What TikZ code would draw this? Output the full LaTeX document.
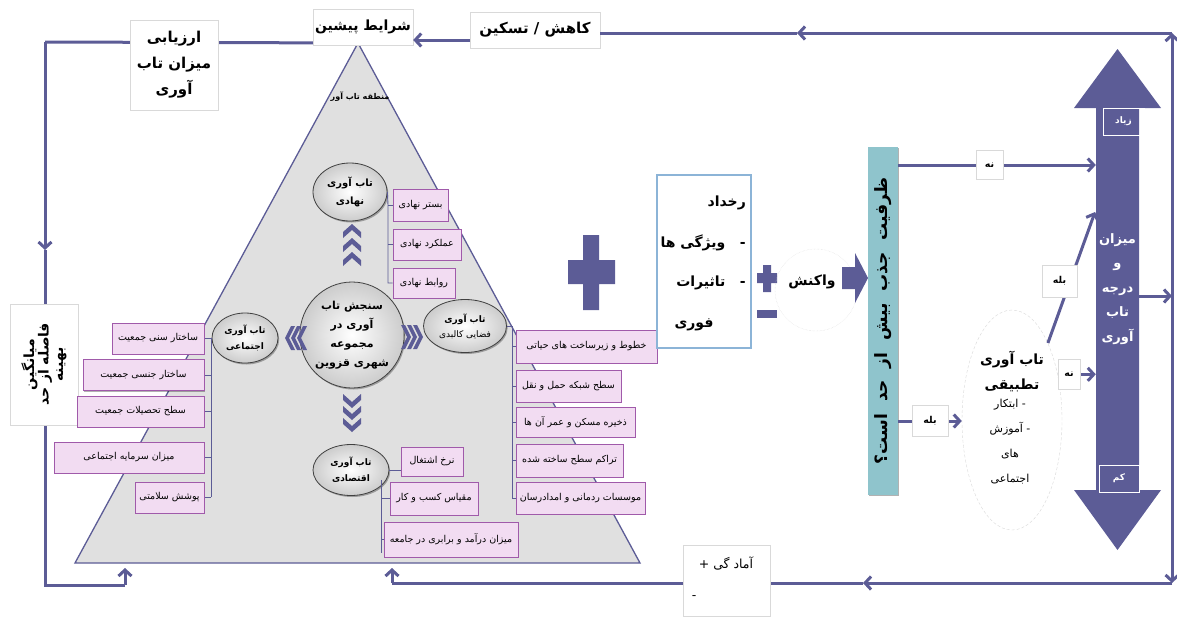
\documentclass[tikz,border=0pt]{standalone}
\usepackage{fontspec}
\newfontfamily\arabicfont[Script=Arabic]{DejaVu Sans}
\TeXXeTstate=1
\usetikzlibrary{arrows.meta,shapes.geometric,shadows}
\definecolor{slate}{RGB}{92,92,150}
\definecolor{trif}{RGB}{224,224,224}
\definecolor{pinkf}{RGB}{242,220,242}
\definecolor{pinkd}{RGB}{160,90,170}
\definecolor{tealbox}{RGB}{143,196,204}
\definecolor{evbd}{RGB}{140,180,215}
\newcommand\faR[1]{\beginR #1\endR}
\tikzset{
 conn/.style={draw=slate, line width=3pt},
 arr/.style={draw=slate, line width=3pt, -{Straight Barb[length=6pt,width=13pt]}},
 bus/.style={draw=slate, line width=0.9pt},
 pbox/.style={draw=pinkd, fill=pinkf, line width=0.9pt, inner sep=1pt,
   font=\arabicfont\fontsize{9.5}{12}\selectfont,
   drop shadow={shadow xshift=1.2pt, shadow yshift=-1.2pt, fill=black, opacity=0.3}},
 ell/.style={ellipse, draw=black!75, line width=0.8pt, inner color=white, outer color=gray!40,
   inner sep=0pt, align=center,
   drop shadow={shadow xshift=1.2pt, shadow yshift=-1.5pt, fill=black, opacity=0.3}},
 wbox/.style={draw=black!15, fill=white, inner sep=0pt, align=center,
   font=\arabicfont\bfseries\fontsize{15}{26}\selectfont},
 lab/.style={draw=black!15, fill=white, inner sep=0pt,
   font=\arabicfont\bfseries\fontsize{9.5}{10}\selectfont,
   drop shadow={shadow xshift=0.8pt, shadow yshift=-0.8pt, fill=black, opacity=0.15}},
 txt/.style={inner sep=0pt, font=\arabicfont\bfseries\fontsize{14}{16}\selectfont},
 chevU/.pic={\fill[slate] (-9,0) -- (0,-8) -- (9,0) -- (9,6) -- (0,-2) -- (-9,6) -- cycle;},
 chevR/.pic={\fill[slate] (-4,-12) -- (2,0) -- (-4,12) -- (0,12) -- (6,0) -- (0,-12) -- cycle;},
}
\begin{document}
\begin{tikzpicture}[x=1pt,y=-1pt]
\useasboundingbox (0,0) rectangle (1177,616);

% ---------- outer loop coordinates
\coordinate (apex) at (358,43);
\coordinate (TL) at (45,42);
\coordinate (lmid) at (45,250);
\coordinate (BL) at (45,585);
\coordinate (BLr) at (125,585);
\coordinate (BLup) at (125,568);
\coordinate (TR) at (1172,33);
\coordinate (tmid) at (797,33);
\coordinate (kl) at (470,40);
\coordinate (RM) at (1172,296);
\coordinate (BR) at (1172,583);
\coordinate (bmid) at (863,583);
\coordinate (BMl) at (392,583);
\coordinate (BMup) at (392,568);

% ---------- triangle
\filldraw[fill=trif, draw=slate, line width=1.3pt] (apex) -- (640,563) -- (75,563) -- cycle;
\node[inner sep=0pt, font=\arabicfont\bfseries\fontsize{8}{9}\selectfont] (zone) at (360,97) {\faR{منطقه تاب آور}};

% ---------- loop lines
\draw[conn] (apex) -- (TL);
\draw[arr] (TL) -- (lmid);
\draw[conn] (lmid) -- (BL) -- (BLr);
\draw[arr] (BLr) -- (BLup);
\draw[arr] (RM) -- (TR);
\draw[arr] (RM) -- (BR);
\draw[arr] (TR) -- (tmid);
\draw[arr] (BR) -- (bmid);
\draw[conn] (bmid) -- (BMl);
\draw[arr] (BMl) -- (BMup);

% ---------- boxes on loop
\node[wbox, minimum width=88pt, minimum height=90pt] (arz) at (174,65)
  {\faR{ارزیابی}\\\faR{میزان تاب}\\\faR{آوری}};
\node[wbox, minimum width=100pt, minimum height=36pt, font=\arabicfont\bfseries\fontsize{14}{16}\selectfont] (shar) at (363,27) {\faR{شرایط پیشین}};
\node[wbox, minimum width=130pt, minimum height=36pt] (kah) at (535,30) {\faR{کاهش / تسکین}};
\draw[conn] (tmid) -- (kah.east |- tmid);
\draw[arr] (kl) -- (shar.east |- kl);
\node[draw=black!15, fill=white, minimum width=68pt, minimum height=121pt] (mian) at (44,364.5) {};
\node[rotate=90, align=center, inner sep=0pt, font=\arabicfont\bfseries\fontsize{14}{14.5}\selectfont] (miantxt) at (mian)
  {\faR{میانگین}\\\faR{فاصله از حد}\\\faR{بهینه}};
\node[draw=black!15, fill=white, minimum width=87pt, minimum height=71pt] (amad) at (726.5,581) {};
\node[inner sep=0pt, font=\arabicfont\fontsize{12.5}{14}\selectfont] (amadt) at (726,563) {\faR{آماد گی +}};
\node[inner sep=0pt, font=\arabicfont\fontsize{12.5}{14}\selectfont] (amadm) at (694,598) {-};

% ---------- central ellipses
\node[ell, minimum width=95pt, minimum height=106pt, font=\arabicfont\bfseries\fontsize{11}{19}\selectfont] (core) at (352,335)
  {\faR{سنجش تاب}\\\faR{آوری در}\\\faR{مجموعه}\\\faR{شهری قزوین}};
\node[ell, minimum width=74pt, minimum height=58pt, font=\arabicfont\bfseries\fontsize{10}{18}\selectfont] (inst) at (350,192)
  {\faR{تاب آوری}\\\faR{نهادی}};
\node[ell, minimum width=66pt, minimum height=50pt, font=\arabicfont\bfseries\fontsize{9}{16}\selectfont] (soc) at (245,338)
  {\faR{تاب آوری}\\\faR{اجتماعی}};
\node[ell, minimum width=83pt, minimum height=53pt, font=\arabicfont\fontsize{9}{15}\selectfont] (phys) at (465,326)
  {\textbf{\faR{تاب آوری}}\\\faR{فضایی کالبدی}};
\node[ell, minimum width=76pt, minimum height=51pt, font=\arabicfont\bfseries\fontsize{9}{16}\selectfont] (eco) at (351,470)
  {\faR{تاب آوری}\\\faR{اقتصادی}};

% chevrons
\pic at (352,232) {chevU};
\pic at (352,246) {chevU};
\pic at (352,260) {chevU};
\pic[rotate=180] at (352,400) {chevU};
\pic[rotate=180] at (352,412) {chevU};
\pic[rotate=180] at (352,424) {chevU};
\pic at (405,337) {chevR};
\pic at (411,337) {chevR};
\pic at (417,337) {chevR};
\pic[rotate=180] at (291,338) {chevR};
\pic[rotate=180] at (297,338) {chevR};
\pic[rotate=180] at (303,338) {chevR};

% ---------- institutional boxes
\coordinate (tbus) at (388,203);
\node[pbox, minimum width=55pt, minimum height=32pt] (b1) at (420.5,205) {\faR{بستر نهادی}};
\node[pbox, minimum width=68pt, minimum height=31pt] (b2) at (427,244.5) {\faR{عملکرد نهادی}};
\node[pbox, minimum width=62pt, minimum height=30pt] (b3) at (424,283) {\faR{روابط نهادی}};
\draw[bus] (inst.east) -- (b1.west -| tbus) -- (b3.west -| tbus) -- (b3.west);
\draw[bus] (b1.west -| tbus) -- (b1.west);
\draw[bus] (b2.west -| tbus) -- (b2.west);

% ---------- social boxes
\coordinate (lbus) at (211,338);
\draw[bus] (soc.west) -- (lbus) -- (211,497);
\foreach \n/\w/\cx/\cy/\t in {
 l1/92/158/338.5/{ساختار سنی جمعیت},
 l2/121/143.5/375/{ساختار جنسی جمعیت},
 l3/127/140.5/411.5/{سطح تحصیلات جمعیت},
 l4/150/129/457.5/{میزان سرمایه اجتماعی},
 l5/69/169.5/497.5/{پوشش سلامتی}}{
 \draw[bus] (211,\cy) -- (204,\cy);
 \node[pbox, minimum width=\w pt, minimum height=31pt] (\n) at (\cx,\cy) {\faR{\t}};
}

% ---------- physical boxes
\draw[bus] (phys.east) -- (512,326) -- (512,498);
\foreach \n/\w/\cx/\cy/\h/\t in {
 r1/141/586.5/346.5/33/{خطوط و زیرساخت های حیاتی},
 r2/105/568.5/386/32/{سطح شبکه حمل و نقل},
 r3/119/575.5/422/30/{ذخیره مسکن و عمر آن ها},
 r4/107/569.5/460.5/33/{تراکم سطح ساخته شده},
 r5/129/580.5/498/32/{موسسات ردمانی و امدادرسان}}{
 \draw[bus] (512,\cy) -- (516,\cy);
 \node[pbox, minimum width=\w pt, minimum height=\h pt] (\n) at (\cx,\cy) {\faR{\t}};
}

% ---------- economic boxes
\node[pbox, minimum width=62pt, minimum height=29pt] (e1) at (432,461.5) {\faR{نرخ اشتغال}};
\node[pbox, minimum width=88pt, minimum height=33pt] (e2) at (434,498.5) {\faR{مقیاس کسب و کار}};
\node[pbox, minimum width=134pt, minimum height=35pt] (e3) at (451,539.5) {\faR{میزان درآمد و برابری در جامعه}};
\draw[bus] (eco.east) -- (eco.east -| e1.west);
\draw[bus] (381,480) -- (381,553);
\draw[bus] (381,498.5) -- (e2.west);
\draw[bus] (381,539.5) -- (e3.west);

% ---------- big plus
\fill[slate] (583,235) -- (599,235) -- (599,260) -- (615,260) -- (615,284) -- (599,284) -- (599,310)
  -- (583,310) -- (583,284) -- (568,284) -- (568,260) -- (583,260) -- cycle;

% ---------- event box
\node[draw=evbd, line width=1.2pt, fill=white, minimum width=94pt, minimum height=173pt] (event) at (704,261.5) {};
\node[txt, anchor=east] (ev1) at (746,203) {\faR{رخداد}};
\node[txt, anchor=east] (ev2) at (746,243) {\faR{- \ \ ویژگی ها}};
\node[txt, anchor=east] (ev3) at (746,283) {\faR{- \ \ تاثیرات}};
\node[txt] (ev4) at (694,325) {\faR{فوری}};

% ---------- plus/minus
\fill[slate] (763,265) -- (771,265) -- (771,273) -- (777,273) -- (777,283) -- (771,283) -- (771,292)
  -- (763,292) -- (763,283) -- (757,283) -- (757,273) -- (763,273) -- cycle;
\fill[slate] (757,310) rectangle (777,318);

% ---------- reaction
\node[circle, draw=gray!30, densely dotted, minimum size=82pt] (vak) at (816,290) {};
\node[txt] (vakt) at (812,282) {\faR{واکنش}};
\fill[slate] (842,267) -- (855,267) -- (855,253) -- (868,278) -- (855,303) -- (855,289) -- (842,289) -- cycle;

% ---------- capacity box
\node[fill=tealbox, minimum width=30pt, minimum height=348pt,
  drop shadow={shadow xshift=1.2pt, shadow yshift=-1.2pt, fill=black, opacity=0.3}] (cap) at (883,321) {};
\node[rotate=90, inner sep=0pt, font=\arabicfont\bfseries\fontsize{17}{18}\selectfont] (capt) at (cap)
  {\faR{ظرفیت \ جذب \ بیش \ از \ حد \ است؟}};

% ---------- big double arrow
\fill[slate] (1074,108) -- (1117.5,49) -- (1161,108) -- (1139,108) -- (1139,490) -- (1161,490)
  -- (1117.5,550) -- (1074,490) -- (1096,490) -- (1096,108) -- cycle;
\node[minimum width=43pt, minimum height=382pt, inner sep=0pt] (big) at (1117.5,299) {};
\node[align=center, inner sep=0pt, text=white, font=\arabicfont\bfseries\fontsize{13}{24.5}\selectfont] (bigt) at (1117.5,289)
  {\faR{میزان}\\\faR{و}\\\faR{درجه}\\\faR{تاب}\\\faR{آوری}};
\node[draw=white, line width=0.6pt, minimum width=41pt, minimum height=27pt, inner sep=0pt, text=white,
  font=\arabicfont\bfseries\fontsize{9}{10}\selectfont] (ziad) at (1123.5,121.5) {\faR{زیاد}};
\node[draw=white, line width=0.6pt, minimum width=40pt, minimum height=27pt, inner sep=0pt, text=white,
  font=\arabicfont\bfseries\fontsize{9}{10}\selectfont] (kam) at (1119,478.5) {\faR{کم}};
\coordinate (bigE) at (1139,296);
\draw[arr] (bigE) -- (RM);

% ---------- adaptive ellipse
\node[ellipse, draw=gray!30, densely dashed, fill=white, minimum width=100pt, minimum height=220pt] (adapt) at (1012,420) {};
\node[align=center, inner sep=0pt, font=\arabicfont\bfseries\fontsize{14}{25}\selectfont] (adt1) at (1012,372)
  {\faR{تاب آوری}\\\faR{تطبیقی}};
\node[align=center, inner sep=0pt, font=\arabicfont\fontsize{11}{25}\selectfont] (adt2) at (1010,442)
  {\faR{- ابتکار}\\\faR{- آموزش}\\\faR{های}\\\faR{اجتماعی}};

% ---------- decision connectors
\coordinate (noY) at (900,165);
\coordinate (yesY) at (900,421);
\coordinate (diagT) at (1095,212);
\draw[arr] (cap.east |- noY) -- (big.west |- noY);
\draw[arr] (cap.east |- yesY) -- (adapt.west |- yesY);
\draw[arr] (adapt.65) -- (diagT);
\draw[arr] (adapt.45) -- (adapt.45 -| big.west);
\node[lab, minimum width=27pt, minimum height=29pt] (no1) at (989.5,165) {\faR{نه}};
\node[lab, minimum width=36pt, minimum height=31pt] (yes1) at (930,421) {\faR{بله}};
\node[lab, minimum width=35pt, minimum height=32pt] (yes2) at (1059.5,281) {\faR{بله}};
\node[lab, minimum width=22pt, minimum height=30pt] (no2) at (1069,374.5) {\faR{نه}};
\end{tikzpicture}
\end{document}
